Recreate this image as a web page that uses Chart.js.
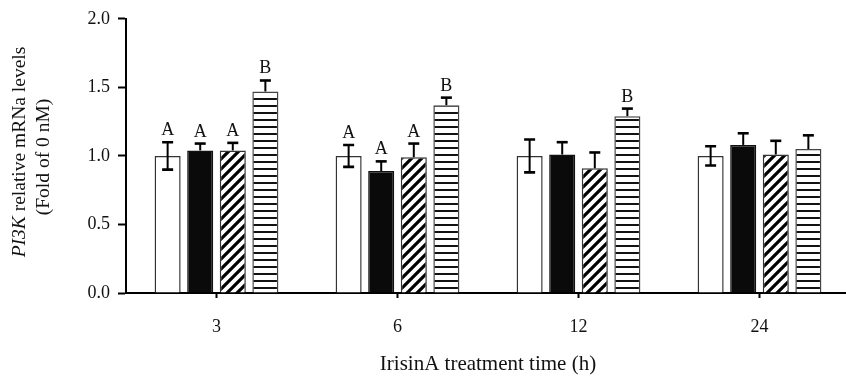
<!DOCTYPE html>
<html>
<head>
<meta charset="utf-8">
<script src="https://cdn.jsdelivr.net/npm/chart.js@4/dist/chart.umd.min.js"></script>
<style>
  html, body { margin: 0; padding: 0; background: #fff; overflow: hidden; }
  #wrap { width: 850px; height: 379px; }
</style>
</head>
<body>
<div id="wrap"><canvas id="c" width="850" height="379"></canvas></div>
<script>
// Treatment times (h) on the x axis
const timePoints = ['3', '6', '12', '24'];

// Group names (one bar per group in each time point)
const seriesNames = ['0 nM', 'IrisinA low', 'IrisinA mid', 'IrisinA high'];

// Mean fold change and SEM per group
const ctrlMean  = [1.00, 1.00, 1.00, 1.00];
const ctrlSem   = [0.10, 0.08, 0.12, 0.07];
const lowMean   = [1.04, 0.89, 1.01, 1.08];
const lowSem    = [0.05, 0.07, 0.09, 0.085];
const midMean   = [1.04, 0.99, 0.91, 1.01];
const midSem    = [0.055, 0.10, 0.115, 0.10];
const highMean  = [1.47, 1.37, 1.29, 1.05];
const highSem   = [0.08, 0.055, 0.055, 0.10];

// Significance letters above each bar
const ctrlLetters = ['A', 'A', '', ''];
const lowLetters  = ['A', 'A', '', ''];
const midLetters  = ['A', 'A', '', ''];
const highLetters = ['B', 'B', 'B', ''];

// Y axis ticks
const yTicks = [0, 0.5, 1.0, 1.5, 2.0];

const SERIF = '"Liberation Serif", "Times New Roman", serif';

// Fill patterns: diagonal stripes and horizontal lines
function diagonalPattern() {
  const s = 10;
  const c = document.createElement('canvas');
  c.width = s; c.height = s;
  const g = c.getContext('2d');
  g.fillStyle = '#fff'; g.fillRect(0, 0, s, s);
  g.strokeStyle = '#000'; g.lineWidth = 3.2; g.lineCap = 'square';
  g.beginPath();
  g.moveTo(-2, s + 2); g.lineTo(s + 2, -2);
  g.moveTo(-2, 2); g.lineTo(2, -2);
  g.moveTo(s - 2, s + 2); g.lineTo(s + 2, s - 2);
  g.stroke();
  return g.createPattern(c, 'repeat');
}
function horizontalPattern() {
  const c = document.createElement('canvas');
  c.width = 4; c.height = 7;
  const g = c.getContext('2d');
  g.fillStyle = '#fff'; g.fillRect(0, 0, 4, 7);
  g.fillStyle = '#111'; g.fillRect(0, 0, 4, 2);
  return g.createPattern(c, 'repeat');
}

const canvas = document.getElementById('c');
const ctx = canvas.getContext('2d');

// Error bars and letters drawn on top of the bars
const errorBars = {
  id: 'errorBars',
  afterDatasetsDraw(chart) {
    const c = chart.ctx;
    const y = chart.scales.y;
    chart.data.datasets.forEach((ds, di) => {
      const meta = chart.getDatasetMeta(di);
      meta.data.forEach((bar, i) => {
        const v = ds.data[i], e = ds.errors[i];
        const top = y.getPixelForValue(v + e);
        const bottom = ds.errorBoth ? y.getPixelForValue(v - e) : bar.y;
        c.save();
        c.strokeStyle = '#000';
        c.lineWidth = 2;
        c.beginPath();
        c.moveTo(bar.x, bottom); c.lineTo(bar.x, top);
        c.stroke();
        c.lineWidth = 2.6;
        c.beginPath();
        c.moveTo(bar.x - 5.5, top); c.lineTo(bar.x + 5.5, top);
        if (ds.errorBoth) { c.moveTo(bar.x - 5.5, bottom); c.lineTo(bar.x + 5.5, bottom); }
        c.stroke();
        const letter = ds.letters[i];
        if (letter) {
          c.fillStyle = '#111';
          c.font = '18px ' + SERIF;
          c.textAlign = 'center';
          c.textBaseline = 'alphabetic';
          c.fillText(letter, bar.x, top - 7);
        }
        c.restore();
      });
    });
  }
};

// Two-line y axis title with the gene name in italics
const yTitle = {
  id: 'yTitle',
  afterDraw(chart) {
    const c = chart.ctx;
    c.save();
    c.fillStyle = '#111';
    c.textBaseline = 'middle';
    const italicFont = 'italic 19.5px ' + SERIF;
    const normalFont = '19.5px ' + SERIF;
    // first line
    c.save();
    c.translate(20, 152);
    c.rotate(-Math.PI / 2);
    const partA = 'PI3K', partB = ' relative mRNa levels';
    c.font = italicFont; const wA = c.measureText(partA).width;
    c.font = normalFont; const wB = c.measureText(partB).width;
    const x0 = -(wA + wB) / 2;
    c.textAlign = 'left';
    c.font = italicFont; c.fillText(partA, x0, 0);
    c.font = normalFont; c.fillText(partB, x0 + wA, 0);
    c.restore();
    // second line
    c.save();
    c.translate(44, 157);
    c.rotate(-Math.PI / 2);
    c.font = normalFont;
    c.textAlign = 'center';
    c.fillText('(Fold of 0 nM)', 0, 0);
    c.restore();
    c.restore();
  }
};

new Chart(ctx, {
  type: 'bar',
  data: {
    labels: timePoints,
    datasets: [
      { label: seriesNames[0], data: ctrlMean, errors: ctrlSem, letters: ctrlLetters, errorBoth: true,
        backgroundColor: '#fff', borderColor: '#333', borderWidth: 1.5 },
      { label: seriesNames[1], data: lowMean, errors: lowSem, letters: lowLetters,
        backgroundColor: '#0a0a0a', borderColor: '#111', borderWidth: 1.5 },
      { label: seriesNames[2], data: midMean, errors: midSem, letters: midLetters,
        backgroundColor: diagonalPattern(), borderColor: '#333', borderWidth: 1.5 },
      { label: seriesNames[3], data: highMean, errors: highSem, letters: highLetters,
        backgroundColor: horizontalPattern(), borderColor: '#444', borderWidth: 1.5 }
    ]
  },
  options: {
    responsive: false,
    animation: false,
    devicePixelRatio: 1,
    layout: { padding: { top: 17.5, right: 0, bottom: 0, left: 0 } },
    plugins: { legend: { display: false }, tooltip: { enabled: false } },
    datasets: { bar: { categoryPercentage: 0.72, barPercentage: 0.8 } },
    scales: {
      x: {
        grid: { display: true, drawOnChartArea: false, offset: false,
                tickLength: 5, tickWidth: 2, tickColor: '#000' },
        border: { display: true, color: '#000', width: 2 },
        ticks: { color: '#111', font: { family: SERIF, size: 18 }, padding: 18 },
        title: { display: true, text: 'IrisinA treatment time (h)', color: '#111',
                 font: { family: SERIF, size: 21 }, padding: { top: 0, bottom: 2 } },
        afterFit(s) { s.height = 86; }
      },
      y: {
        min: 0, max: 2,
        afterBuildTicks(s) { s.ticks = yTicks.map(v => ({ value: v })); },
        ticks: { color: '#111', font: { family: SERIF, size: 18 }, padding: 8,
                 callback: v => Number(v).toFixed(1) },
        grid: { display: true, drawOnChartArea: false,
                tickLength: 8, tickWidth: 2, tickColor: '#000' },
        border: { display: true, color: '#000', width: 2 },
        afterFit(s) { s.width = 126; }
      }
    }
  },
  plugins: [errorBars, yTitle]
});
</script>
</body>
</html>
